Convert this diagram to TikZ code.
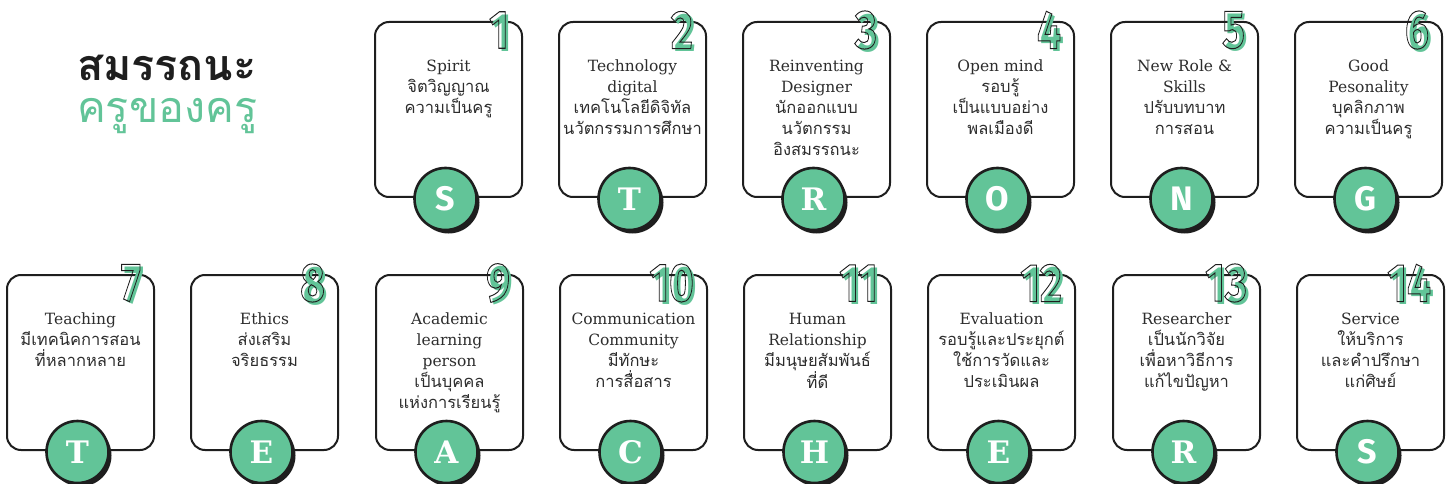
\documentclass[tikz,border=0pt]{standalone}
\usepackage{fontspec}
\usepackage{graphicx}
\usetikzlibrary{shadows,calc}
\newfontfamily\thaifont[Script=Thai]{Loma}
\newfontfamily\numfont{Fira Sans}
\newfontfamily\lettsans{Fira Sans}
\newfontfamily\lettslab{DejaVu Serif}
\newfontfamily\latinfont{DejaVu Serif}
\definecolor{kgreen}{RGB}{98,196,152}
\definecolor{ktext}{RGB}{45,45,45}
\definecolor{kink}{RGB}{30,30,30}
\newcommand\outlinetext[1]{\special{pdf:literal direct 1 Tr 1 w}#1\special{pdf:literal direct 0 Tr}}
\newcommand\thl[1]{{\thaifont\fontsize{16.5}{21}\selectfont #1}}
\tikzset{
  cardbox/.style={draw=kink, line width=2pt, rounded corners=14pt, minimum width=147pt, minimum height=175pt, inner sep=0pt, fill=white},
  badge/.style={circle, draw=kink, fill=kgreen, line width=2.6pt, minimum size=62pt, inner sep=0pt, text=white,
    drop shadow={shadow xshift=3pt, shadow yshift=-3.5pt, fill=kink, opacity=1}},
  cardtext/.style={anchor=north, align=center, inner sep=0pt, text=ktext, font=\latinfont\fontsize{15.5}{21}\selectfont},
  numgreen/.style={anchor=east, inner sep=0pt, text=kgreen, font=\numfont\bfseries\fontsize{54}{54}\selectfont},
  numline/.style={anchor=east, inner sep=0pt, text=kink, font=\numfont\bfseries\fontsize{54}{54}\selectfont},
}
% #1 id, #2 left, #3 top, #4 number, #5 letter font, #6 letter, #7 text
\newcommand\card[7]{%
  \node[cardbox] (b#1) at (#2+73.5,#3+87.5) {};
  \coordinate (n#1) at ([xshift=-14pt,yshift=-9pt]b#1.north east);
  \node[numgreen] (ng#1) at ([xshift=3.5pt,yshift=-3pt]n#1) {\scalebox{0.78}[1]{#4}};
  \node[numline] (nl#1) at (n#1) {\scalebox{0.78}[1]{\outlinetext{#4}}};
  \node[cardtext] (t#1) at ([yshift=-39pt]b#1.north) {#7};
  \node[badge, font=#5] (c#1) at ([xshift=-3pt,yshift=-1pt]b#1.south) {#6};
}
\begin{document}
\begin{tikzpicture}[x=1pt,y=-1pt]
\useasboundingbox[fill=white] (0,0) rectangle (1452,484);
\node[anchor=west, inner sep=0pt, text=kink, font=\thaifont\bfseries\fontsize{43}{43}\selectfont] (title1) at (77,68) {สมรรถนะ};
\node[anchor=west, inner sep=0pt, text=kgreen, font=\thaifont\fontsize{43}{43}\selectfont] (title2) at (77,116) {ครูของครู};
\def\sansL{\lettsans\bfseries\fontsize{34}{34}\selectfont}
\def\slabL{\lettslab\bfseries\fontsize{31}{31}\selectfont}
\card{1}{375}{22}{1}{\sansL}{S}{Spirit\\\thl{จิตวิญญาณ}\\\thl{ความเป็นครู}}
\card{2}{559}{22}{2}{\slabL}{T}{Technology\\digital\\\thl{เทคโนโลยีดิจิทัล}\\\thl{นวัตกรรมการศึกษา}}
\card{3}{743}{22}{3}{\slabL}{R}{Reinventing\\Designer\\\thl{นักออกแบบ}\\\thl{นวัตกรรม}\\\thl{อิงสมรรถนะ}}
\card{4}{927}{22}{4}{\sansL}{O}{Open mind\\\thl{รอบรู้}\\\thl{เป็นแบบอย่าง}\\\thl{พลเมืองดี}}
\card{5}{1111}{22}{5}{\sansL}{N}{New Role \&\\Skills\\\thl{ปรับบทบาท}\\\thl{การสอน}}
\card{6}{1295}{22}{6}{\sansL}{G}{Good\\Pesonality\\\thl{บุคลิกภาพ}\\\thl{ความเป็นครู}}
\card{7}{7}{275}{7}{\slabL}{T}{Teaching\\\thl{มีเทคนิคการสอน}\\\thl{ที่หลากหลาย}}
\card{8}{191}{275}{8}{\slabL}{E}{Ethics\\\thl{ส่งเสริม}\\\thl{จริยธรรม}}
\card{9}{376}{275}{9}{\slabL}{A}{Academic\\learning\\person\\\thl{เป็นบุคคล}\\\thl{แห่งการเรียนรู้}}
\card{10}{560}{275}{10}{\slabL}{C}{Communication\\Community\\\thl{มีทักษะ}\\\thl{การสื่อสาร}}
\card{11}{744}{275}{11}{\slabL}{H}{Human\\Relationship\\\thl{มีมนุษยสัมพันธ์}\\\thl{ที่ดี}}
\card{12}{928}{275}{12}{\slabL}{E}{Evaluation\\\thl{รอบรู้และประยุกต์}\\\thl{ใช้การวัดและ}\\\thl{ประเมินผล}}
\card{13}{1113}{275}{13}{\slabL}{R}{Researcher\\\thl{เป็นนักวิจัย}\\\thl{เพื่อหาวิธีการ}\\\thl{แก้ไขปัญหา}}
\card{14}{1297}{275}{14}{\sansL}{S}{Service\\\thl{ให้บริการ}\\\thl{และคำปรึกษา}\\\thl{แก่ศิษย์}}
\end{tikzpicture}
\end{document}
